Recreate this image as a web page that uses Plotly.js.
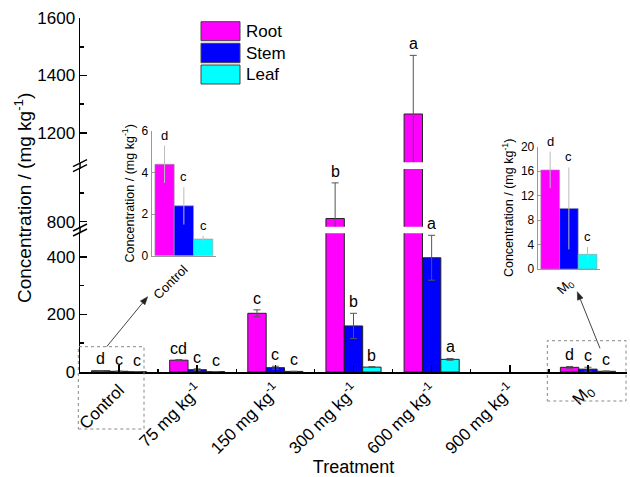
<!DOCTYPE html>
<html>
<head>
<meta charset="utf-8">
<script src="https://cdn.plot.ly/plotly-3.0.1.min.js"></script>
<style>html,body{margin:0;padding:0;background:#fff;}#chart{width:630px;height:477px;}</style>
</head>
<body>
<div id="chart"></div>
<script>
// ---- data ----
const categories = ['Control', '75 mg kg<sup>-1</sup>', '150 mg kg<sup>-1</sup>', '300 mg kg<sup>-1</sup>', '600 mg kg<sup>-1</sup>', '900 mg kg<sup>-1</sup>', 'M<sub>0</sub>'];
const seriesNames = ['Root', 'Stem', 'Leaf'];
const rootVals = [4.4, 41, 204, 811, 1266, null, 16.2];
const rootErr  = [0.9, 2, 12, 124, 204, 0, 3.0];
const stemVals = [2.4, 8, 15, 160, 397, null, 9.9];
const stemErr  = [0.9, 3, 5, 44, 78, 0, 6.7];
const leafVals = [0.8, 1.2, 2, 17, 44, null, 2.4];
const leafErr  = [0.15, 0.3, 0.5, 1.5, 3, 0, 1.2];
const rootLetters = ['d', 'cd', 'c', 'b', 'a', '', 'd'];
const stemLetters = ['c', 'c', 'c', 'b', 'a', '', 'c'];
const leafLetters = ['c', 'c', 'c', 'b', 'a', '', 'c'];
const insetCategories = ['Control', 'M<sub>0</sub>'];
const insetIndex = [0, 6];
const yTitle = 'Concentration / (mg kg<sup>-1</sup>)';
const xTitle = 'Treatment';

// ---- styling ----
const colors = ['#FF00FF', '#0000FF', '#00FFFF'];
const vals = [rootVals, stemVals, leafVals];
const errs = [rootErr, stemErr, leafErr];
const letters = [rootLetters, stemLetters, leafLetters];
const FONT = 'Arial, "Liberation Sans", sans-serif';

// pixel -> paper helpers (plot area 80..627 x 18..372)
const L = 80, R = 627, T = 18, B = 372;
const PX = p => (p - L) / (R - L);
const PY = p => (B - p) / (B - T);

const segments = [
  {ax: 'y',  range: [0, 482],       dom: [0, PY(233.3)]},
  {ax: 'y2', range: [782.6, 983.3], dom: [PY(226.7), PY(169)]},
  {ax: 'y3', range: [1098, 1600],   dom: [PY(162.3), 1]}
];

const BW = 0.235;
const traces = [];
segments.forEach(seg => {
  for (let k = 0; k < 3; k++) {
    traces.push({
      type: 'bar', name: seriesNames[k],
      x: categories.map((c, i) => i), y: vals[k],
      width: BW, offset: -1.5 * BW + k * BW,
      xaxis: 'x', yaxis: seg.ax,
      marker: {color: colors[k], line: {color: '#222', width: 1}},
      error_y: {type: 'data', array: errs[k], visible: true, color: '#555', thickness: 1, width: 3.5},
      showlegend: false, hoverinfo: 'skip'
    });
  }
});

// insets
const IW = 0.3;
const insetAxes = [['x2', 'y4'], ['x3', 'y5']];
insetIndex.forEach((ci, n) => {
  for (let k = 0; k < 3; k++) {
    traces.push({
      type: 'bar', name: seriesNames[k],
      x: [0], y: [vals[k][ci]],
      width: IW, offset: -1.5 * IW + k * IW,
      xaxis: insetAxes[n][0], yaxis: insetAxes[n][1],
      marker: {color: colors[k], line: {color: '#999', width: 0.6}},
      error_y: {type: 'data', array: [errs[k][ci]], visible: true, color: '#bbb', thickness: 1, width: 0},
      showlegend: false, hoverinfo: 'skip'
    });
  }
});

// annotations: letters
const annotations = [];
function segFor(v) {
  if (v <= segments[0].range[1]) return 'y';
  if (v <= segments[1].range[1]) return 'y2';
  return 'y3';
}
categories.forEach((c, i) => {
  for (let k = 0; k < 3; k++) {
    const t = letters[k][i];
    if (!t) continue;
    const top = (vals[k][i] || 0) + (errs[k][i] || 0);
    annotations.push({
      x: i - BW + k * BW, y: top, xref: 'x', yref: segFor(top),
      text: t, showarrow: false, yanchor: 'bottom', yshift: 1,
      font: {size: 16, family: FONT, color: '#000'}
    });
  }
});
insetIndex.forEach((ci, n) => {
  for (let k = 0; k < 3; k++) {
    const t = letters[k][ci];
    const top = vals[k][ci] + errs[k][ci];
    annotations.push({
      x: -IW + k * IW, y: top, xref: insetAxes[n][0], yref: insetAxes[n][1],
      text: t, showarrow: false, yanchor: 'bottom', yshift: 1,
      font: {size: 13, family: FONT, color: '#000'}
    });
  }
});

const shapes = [];
// arrows drawn as line + filled head
function arrow(tx, ty, hx, hy) {
  const dx = hx - tx, dy = hy - ty, len = Math.hypot(dx, dy);
  const ux = dx / len, uy = dy / len, vx = -uy, vy = ux;
  const hl = 8, hw = 3;
  const bx = hx - ux * hl, by = hy - uy * hl;
  shapes.push({type: 'line', xref: 'paper', yref: 'paper', x0: PX(tx), y0: PY(ty), x1: PX(bx), y1: PY(by),
    line: {color: '#444', width: 1}});
  const p = [[hx, hy], [bx + vx * hw, by + vy * hw], [bx - vx * hw, by - vy * hw]];
  shapes.push({type: 'path', xref: 'paper', yref: 'paper',
    path: 'M' + p.map(q => PX(q[0]) + ',' + PY(q[1])).join(' L') + ' Z',
    fillcolor: '#222', line: {color: '#222', width: 0.5}});
}
arrow(106.7, 346.7, 147.7, 296.7);
arrow(600, 348.3, 577.3, 291.7);

// legend (custom)
const legTop = [21.7, 43.3, 65], legBot = [40.7, 62.7, 84];
for (let k = 0; k < 3; k++) {
  shapes.push({type: 'rect', xref: 'paper', yref: 'paper', x0: PX(201), x1: PX(240), y0: PY(legBot[k]), y1: PY(legTop[k]),
    fillcolor: colors[k], line: {color: '#444', width: 1}});
  annotations.push({x: PX(244), y: PY((legTop[k] + legBot[k]) / 2), xref: 'paper', yref: 'paper',
    text: seriesNames[k], showarrow: false, xanchor: 'left', yanchor: 'middle',
    font: {size: 17, family: FONT, color: '#000'}});
}
// dotted boxes
shapes.push({type: 'rect', xref: 'paper', yref: 'paper', x0: PX(78.3), x1: PX(144), y0: PY(429), y1: PY(346.7),
  line: {color: '#888', width: 1, dash: 'dot'}});
shapes.push({type: 'rect', xref: 'paper', yref: 'paper', x0: PX(547.3), x1: PX(626), y0: PY(401), y1: PY(340.7),
  line: {color: '#888', width: 1, dash: 'dot'}});
// axis continuity + break marks
[[162.3, 169], [226.7, 233.3]].forEach(g => {
  shapes.push({type: 'line', xref: 'paper', yref: 'paper', x0: 0, x1: 0, y0: PY(g[1]), y1: PY(g[0]),
    line: {color: '#000', width: 1.5}});
  const yc = (g[0] + g[1]) / 2;
  [-2.5, 2.5].forEach(d => {
    shapes.push({type: 'line', xref: 'paper', yref: 'paper', x0: PX(73), x1: PX(87),
      y0: PY(yc + d + 3.5), y1: PY(yc + d - 3.5), line: {color: '#000', width: 1.5}});
  });
});

const axBase = {showgrid: false, zeroline: false, showline: true, linecolor: '#000', linewidth: 1.5,
  ticks: 'inside', ticklen: 7, tickwidth: 1.5, tickcolor: '#000', tickfont: {size: 17, family: FONT, color: '#000'}};
const yMinor = v => ({tickmode: 'array', tickvals: v, ticks: 'inside', ticklen: 3.5, tickwidth: 1.5, tickcolor: '#000', showgrid: false});
const insetY = {showgrid: false, zeroline: false, showline: true, linecolor: '#999', linewidth: 1,
  ticks: 'inside', ticklen: 3, tickcolor: '#999', tickfont: {size: 12, family: FONT, color: '#000'}};
const insetX = {showgrid: false, zeroline: false, showline: true, linecolor: '#999', linewidth: 1,
  ticks: '', range: [-0.5, 0.5], tickmode: 'array', tickvals: [0], tickangle: -45,
  tickfont: {size: 13, family: FONT, color: '#000'}};

const layout = {
  width: 630, height: 477,
  margin: {l: L, r: 630 - R, t: T, b: 477 - B},
  paper_bgcolor: '#fff', plot_bgcolor: 'rgba(0,0,0,0)',
  font: {family: FONT, color: '#000'},
  showlegend: false,
  xaxis: Object.assign({}, axBase, {domain: [0, 1], anchor: 'y', range: [-0.5, 6.5],
    tickmode: 'array', tickvals: categories.map((c, i) => i), ticktext: categories, tickangle: -45,
    tickfont: {size: 17, family: FONT, color: '#000'},
    minor: {tickmode: 'array', tickvals: [0.5, 1.5, 2.5, 3.5, 4.5, 5.5], ticks: 'inside', ticklen: 3.5, tickwidth: 1.5, tickcolor: '#000', showgrid: false},
    title: {text: xTitle, font: {size: 18, family: FONT, color: '#000'}, standoff: 6}}),
  yaxis: Object.assign({}, axBase, {domain: segments[0].dom, anchor: 'x', range: segments[0].range,
    tickmode: 'array', tickvals: [0, 200, 400], minor: yMinor([100, 300])}),
  yaxis2: Object.assign({}, axBase, {domain: segments[1].dom, anchor: 'x', range: segments[1].range,
    tickmode: 'array', tickvals: [800], minor: yMinor([900]),
    title: {text: yTitle, font: {size: 19, family: FONT, color: '#000'}, standoff: 10}}),
  yaxis3: Object.assign({}, axBase, {domain: segments[2].dom, anchor: 'x', range: segments[2].range,
    tickmode: 'array', tickvals: [1200, 1400, 1600], minor: yMinor([1300, 1500])}),
  xaxis2: Object.assign({}, insetX, {domain: [PX(151.7), PX(216)], anchor: 'y4', ticktext: [insetCategories[0]]}),
  yaxis4: Object.assign({}, insetY, {domain: [PY(255.7), PY(131)], anchor: 'x2', range: [0, 6],
    tickmode: 'array', tickvals: [0, 2, 4, 6],
    title: {text: yTitle, font: {size: 12.5, family: FONT, color: '#000'}, standoff: 4}}),
  xaxis3: Object.assign({}, insetX, {domain: [PX(537.7), PX(600)], anchor: 'y5', ticktext: [insetCategories[1]]}),
  yaxis5: Object.assign({}, insetY, {domain: [PY(269), PY(146.7)], anchor: 'x3', range: [0, 20],
    tickmode: 'array', tickvals: [0, 4, 8, 12, 16, 20],
    title: {text: yTitle, font: {size: 12.5, family: FONT, color: '#000'}, standoff: 4}}),
  shapes: shapes,
  annotations: annotations
};

Plotly.newPlot('chart', traces, layout, {displayModeBar: false, staticPlot: true});
</script>
</body>
</html>
